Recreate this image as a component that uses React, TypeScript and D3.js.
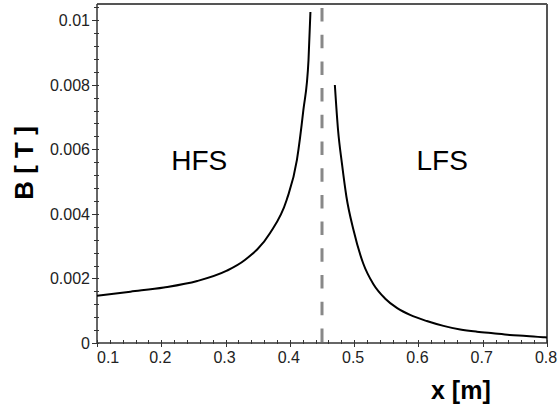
import React from "react";
import * as d3 from "d3";

const xLeft = [0.100, 0.152, 0.204, 0.256, 0.302, 0.330, 0.369, 0.395, 0.411, 0.421, 0.429, 0.432];
const bLeft = [0.00146, 0.00159, 0.00172, 0.00192, 0.00224, 0.00257, 0.00340, 0.00443, 0.00567, 0.00721, 0.00876, 0.01025];
const xRight = [0.470, 0.475, 0.481, 0.488, 0.499, 0.514, 0.530, 0.548, 0.567, 0.587, 0.613, 0.639, 0.665, 0.691, 0.716, 0.742, 0.768, 0.794, 0.800];
const bRight = [0.00799, 0.00659, 0.00556, 0.00453, 0.00350, 0.00247, 0.00182, 0.00138, 0.00108, 0.00087, 0.00068, 0.00053, 0.00042, 0.00035, 0.00030, 0.00025, 0.00022, 0.00018, 0.00017];
const separatrixX = 0.45;
const xTicks = [0.1, 0.2, 0.3, 0.4, 0.5, 0.6, 0.7, 0.8];
const xTickLabels = ["0.1", "0.2", "0.3", "0.4", "0.5", "0.6", "0.7", "0.8"];
const yTicks = [0, 0.002, 0.004, 0.006, 0.008, 0.01];
const yTickLabels = ["0", "0.002", "0.004", "0.006", "0.008", "0.01"];
const regionLabels = [
  { text: "HFS", x: 0.259, y: 0.0056 },
  { text: "LFS", x: 0.637, y: 0.0056 },
];

export default function App() {
  const W = 558, H = 410;
  const L = 97, R = 547, T = 4, B = 343;
  const x = d3.scaleLinear().domain([0.1, 0.8]).range([L, R]);
  const y = d3.scaleLinear().domain([0, 0.0105]).range([B, T]);
  const line = d3
    .line<[number, number]>()
    .x((d) => x(d[0]))
    .y((d) => y(d[1]))
    .curve(d3.curveMonotoneX);
  const left = xLeft.map((v, i) => [v, bLeft[i]] as [number, number]);
  const right = xRight.map((v, i) => [v, bRight[i]] as [number, number]);
  const xMinor = d3.range(0, 36).map((i) => 0.1 + i * 0.02).filter((v) => v <= 0.8001);
  const yMinor = d3.range(0, 27).map((i) => i * 0.0004).filter((v) => v <= 0.0105);
  const axisColor = "#333";
  const font = "Arial, 'Liberation Sans', sans-serif";
  return (
    <svg width={W} height={H} style={{ position: "absolute", left: 0, top: 0, background: "#fff" }}>
      <rect x={0} y={0} width={W} height={H} fill="#fff" />
      {/* frame */}
      <line x1={L} y1={T} x2={R} y2={T} stroke="#555" strokeWidth={2} />
      <line x1={R} y1={T} x2={R} y2={B} stroke="#555" strokeWidth={2} />
      <line x1={L} y1={T} x2={L} y2={B + 1} stroke={axisColor} strokeWidth={1.5} />
      <line x1={L} y1={B} x2={R} y2={B} stroke={axisColor} strokeWidth={1.5} />
      {/* y ticks */}
      {yMinor.map((v, i) => (
        <line key={"ym" + i} x1={L - 3} x2={L + 2} y1={Math.round(y(v)) + 0.5} y2={Math.round(y(v)) + 0.5} stroke={axisColor} strokeWidth={1} />
      ))}
      {yTicks.map((v, i) => (
        <g key={"yt" + i}>
          <line x1={L - 5} x2={L} y1={Math.round(y(v)) + 0.5} y2={Math.round(y(v)) + 0.5} stroke={axisColor} strokeWidth={1} />
          <text x={L - 7} y={y(v) + 6} textAnchor="end" fontFamily={font} fontSize={16} fill="#222">
            {yTickLabels[i]}
          </text>
        </g>
      ))}
      {/* x ticks */}
      {xMinor.map((v, i) => (
        <line key={"xm" + i} x1={Math.round(x(v)) + 0.5} x2={Math.round(x(v)) + 0.5} y1={B - 3} y2={B + 1} stroke={axisColor} strokeWidth={1} />
      ))}
      {xTicks.map((v, i) => (
        <g key={"xt" + i}>
          <line x1={Math.round(x(v)) + 0.5} x2={Math.round(x(v)) + 0.5} y1={B - 3} y2={B + 4} stroke={axisColor} strokeWidth={1} />
          <text x={i === 0 ? x(v) : x(v) - 1} y={363} textAnchor={i === 0 ? "start" : "middle"} fontFamily={font} fontSize={16} fill="#222">
            {xTickLabels[i]}
          </text>
        </g>
      ))}
      {/* separatrix */}
      <line x1={x(separatrixX)} x2={x(separatrixX)} y1={8} y2={B} stroke="#888" strokeWidth={3} strokeDasharray="13.5 13.2" />
      {/* curves */}
      <path d={line(left) || ""} fill="none" stroke="#000" strokeWidth={2} />
      <path d={line(right) || ""} fill="none" stroke="#000" strokeWidth={2} />
      {/* region labels */}
      {regionLabels.map((r) => (
        <text key={r.text} x={x(r.x)} y={169.5} textAnchor="middle" fontFamily={font} fontSize={28} fill="#000">
          {r.text}
        </text>
      ))}
      {/* axis titles */}
      <text transform="translate(33,163) rotate(-90)" textAnchor="middle" fontFamily={font} fontWeight="bold" fontSize={26} fill="#000">
        B [ T ]
      </text>
      <text x={431} y={399} textAnchor="start" fontFamily={font} fontWeight="bold" fontSize={25} fill="#000">
        x [m]
      </text>
    </svg>
  );
}
